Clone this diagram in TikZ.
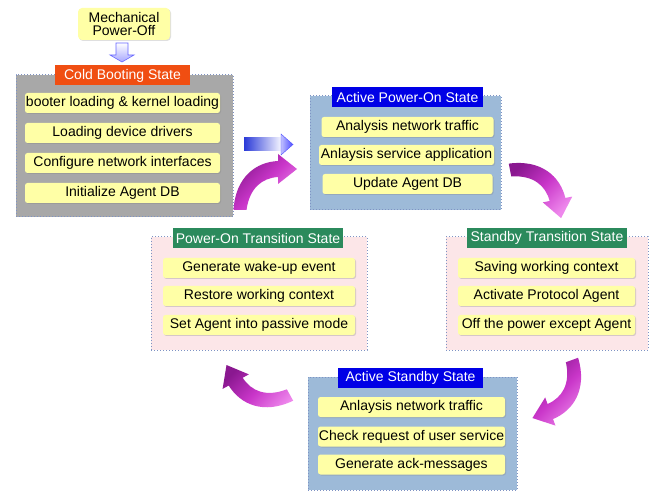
\documentclass[tikz,border=0pt]{standalone}
\usepackage{fontspec}
\setmainfont{Liberation Sans}
\usetikzlibrary{shadows}
\definecolor{itemyellow}{HTML}{FFFFA6}
\definecolor{coldgray}{HTML}{A8A8A8}
\definecolor{activeblue}{HTML}{9DBAD8}
\definecolor{transpink}{HTML}{FCE6E8}
\definecolor{dotborder}{HTML}{7F93C4}
\definecolor{titleorange}{HTML}{F04E12}
\definecolor{titleblue}{HTML}{0000E6}
\definecolor{titlegreen}{HTML}{2B8A5C}
\definecolor{arrowdark}{HTML}{8A1890}
\definecolor{arrowmid}{HTML}{C936C9}
\definecolor{arrowlight}{HTML}{EE88EC}
\definecolor{barblue}{HTML}{2A3AD8}
\begin{document}
\begin{tikzpicture}[x=1pt,y=1pt,
  txt/.style={font=\fontsize{14}{13}\selectfont, text=black, inner sep=0pt, align=center},
  item/.style={txt, fill=itemyellow, rounded corners=2.5pt, minimum height=20pt,
    drop shadow={shadow xshift=1pt, shadow yshift=-1pt, opacity=0.3}},
  container/.style={draw=dotborder, dotted, line width=1pt, inner sep=0pt},
  statetitle/.style={txt, text=white, minimum height=20pt},
  curvarrow/.pic={
    \shade[shading=axis, top color=arrowdark, bottom color=arrowlight, middle color=arrowmid, shading angle=45]
      (-6.5,0) .. controls (-4.5,33) and (16,48) .. (38,49) -- (38,56) -- (57,41) -- (38,26) -- (38,33)
      .. controls (22,32) and (9.5,22) .. (6.5,0) -- cycle;
  }]
\fill[white] (0,0) rectangle (657,-492);
\useasboundingbox (0,0) rectangle (657,-492);

% Mechanical power-off
\node[txt, fill=itemyellow, rounded corners=4pt, minimum width=92pt, minimum height=32pt,
  drop shadow={shadow xshift=1pt, shadow yshift=-1pt, opacity=0.25}] (mech) at (124,-24) {Mechanical\\Power-Off};
\shade[top color=white, bottom color=blue!35, draw=blue!60, line width=0.6pt]
  (116,-43) -- (128,-43) -- (128,-55) -- (134,-55) -- (122,-62) -- (110,-55) -- (116,-55) -- cycle;

% Cold booting state
\node[container, fill=coldgray, minimum width=217pt, minimum height=142pt] (cold) at (124.5,-146) {};
\node[statetitle, fill=titleorange, minimum width=135pt] (coldt) at (122.5,-75.5) {Cold Booting State};
\node[item, minimum width=195pt] (c1) at (122.5,-103) {booter loading \& kernel loading};
\node[item, minimum width=195pt] (c2) at (122.5,-133) {Loading device drivers};
\node[item, minimum width=195pt] (c3) at (122.5,-163) {Configure network interfaces};
\node[item, minimum width=195pt] (c4) at (122.5,-193) {Initialize Agent DB};

% Active Power-On state
\node[container, fill=activeblue, minimum width=191pt, minimum height=114pt] (apo) at (405.5,-153) {};
\node[statetitle, fill=titleblue, minimum width=151pt] (apot) at (407.5,-97) {Active Power-On State};
\node[item, minimum width=172pt] (a1) at (407.5,-127) {Analysis network traffic};
\node[item, minimum width=175pt] (a2) at (406.5,-155) {Anlaysis service application};
\node[item, minimum width=170pt] (a3) at (407.5,-184) {Update Agent DB};

% Standby transition state
\node[container, fill=transpink, minimum width=202pt, minimum height=113pt] (stt) at (547,-293.5) {};
\node[statetitle, fill=titlegreen, minimum width=160pt] (sttt) at (547,-238) {Standby Transition State};
\node[item, minimum width=177pt] (s1) at (546.5,-268) {Saving working context};
\node[item, minimum width=177pt] (s2) at (546.5,-296) {Activate Protocol Agent};
\node[item, minimum width=177pt] (s3) at (546.5,-325) {Off the power except Agent};

% Power-On transition state
\node[container, fill=transpink, minimum width=216pt, minimum height=113pt] (pot) at (259,-293.5) {};
\node[statetitle, fill=titlegreen, minimum width=170pt] (pott) at (258,-238) {Power-On Transition State};
\node[item, minimum width=192pt] (p1) at (259,-268) {Generate wake-up event};
\node[item, minimum width=192pt] (p2) at (259,-296) {Restore working context};
\node[item, minimum width=192pt] (p3) at (259,-325) {Set Agent into passive mode};

% Active Standby state
\node[container, fill=activeblue, minimum width=209pt, minimum height=113pt] (ast) at (412.5,-433.5) {};
\node[statetitle, fill=titleblue, minimum width=145pt] (astt) at (410.5,-378) {Active Standby State};
\node[item, minimum width=187pt] (t1) at (411.5,-407) {Anlaysis network traffic};
\node[item, minimum width=187pt] (t2) at (411.5,-436.5) {Check request of user service};
\node[item, minimum width=187pt] (t3) at (411.5,-464.5) {Generate ack-messages};

% Blue block arrow
\shade[left color=barblue, right color=blue!4]
  (244,-138) rectangle (281,-151);
\shade[left color=blue!25, right color=blue!70, draw=blue!70, line width=0.4pt]
  (281,-134) -- (293,-144.5) -- (281,-155) -- cycle;

% Curved magenta arrows
\pic[rotate=0] at (240,-210) {curvarrow};
\pic[rotate=-79] at (510,-170) {curvarrow};
\pic[rotate=-160] at (572,-360) {curvarrow};
\pic[rotate=119] at (290,-395) {curvarrow};
\end{tikzpicture}
\end{document}
